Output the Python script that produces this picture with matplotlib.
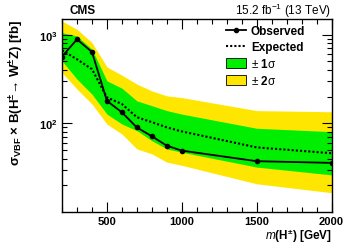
import numpy as np
import matplotlib
matplotlib.use("Agg")
import matplotlib.pyplot as plt
from matplotlib.lines import Line2D
from matplotlib.patches import Patch
from matplotlib.ticker import FixedLocator, LogLocator, MultipleLocator, NullFormatter

plt.rcParams["font.family"] = ["Liberation Sans", "DejaVu Sans"]
plt.rcParams["mathtext.fontset"] = "custom"
plt.rcParams["mathtext.rm"] = "Liberation Sans"
plt.rcParams["mathtext.bf"] = "Liberation Sans:bold"
plt.rcParams["mathtext.it"] = "Liberation Sans:italic"

# charged Higgs mass points [GeV]
mass = [200, 300, 400, 500, 600, 700, 800, 900, 1000, 1500, 2000]
# limits [fb]
observed = [566, 885, 637, 179, 133, 89.7, 71.5, 55.9, 49.2, 37.4, 35.8]
expected = [666, 527, 408, 196, 165, 117, 103, 90, 81, 53.5, 46]
exp_p1 = [1052, 964, 684, 301, 249, 179, 158, 139, 127, 87.9, 80.5]
exp_m1 = [505, 315, 213, 127, 98.2, 82.6, 63.7, 51.4, 47.2, 32.1, 26.2]
exp_p2 = [1422, 1148, 813, 432, 349, 277, 232, 204, 195, 139, 135]
exp_m2 = [374, 243, 165, 98, 75.8, 51.4, 45.2, 36.5, 33.6, 20.8, 16.5]

green = "#00ee00"
yellow = "#ffe600"

fig = plt.figure(figsize=(3.49, 2.51), dpi=100)
ax = fig.add_axes([0.1777, 0.1514, 0.9500 - 0.1777, 0.9203 - 0.1514])

ax.fill_between(mass, exp_m2, exp_p2, color=yellow, lw=0)
ax.fill_between(mass, exp_m1, exp_p1, color=green, lw=0)
ax.plot(mass, expected, color="black", ls=(0, (1, 1)), lw=1.5)
ax.plot(mass, observed, color="black", lw=1.3, marker="o", ms=3)

ax.set_yscale("log")
ax.set_xlim(200, 2000)
ax.set_ylim(10, 1500)

ax.xaxis.set_major_locator(FixedLocator([500, 1000, 1500, 2000]))
ax.xaxis.set_minor_locator(MultipleLocator(100))
ax.yaxis.set_major_locator(FixedLocator([100, 1000]))
ax.yaxis.set_minor_locator(LogLocator(base=10, subs=np.arange(2, 10)))
ax.yaxis.set_minor_formatter(NullFormatter())
ax.set_yticklabels([r"$\mathbf{10^{2}}$", r"$\mathbf{10^{3}}$"])
ax.tick_params(which="both", direction="in", top=True, right=True, width=0.8)
ax.tick_params(which="major", length=7, labelsize=8, pad=3)
ax.tick_params(which="minor", length=3.5)
for lab in ax.get_xticklabels():
    lab.set_fontweight("bold")
for s in ax.spines.values():
    s.set_linewidth(1.0)

ax.set_ylabel(r"σ$_{\mathbf{VBF}}$ × B(H$^{\mathbf{\pm}}$→ W$^{\mathbf{\pm}}$Z) [fb]",
              fontsize=9.5, fontweight="bold", loc="top")
ax.yaxis.set_label_coords(-0.135, 1.0)
ax.set_xlabel(r"$\mathbf{\mathit{m}}$(H$^{\mathbf{\pm}}$) [GeV]", fontsize=8.5,
              fontweight="bold", loc="right", labelpad=0)

fig.text(70 / 349, 1 - 11 / 251, "CMS", fontsize=8.5, fontweight="bold",
         ha="left", va="center")
fig.text(331 / 349, 1 - 11 / 251, r"15.2 fb$^{-1}$ (13 TeV)", fontsize=8.5,
         ha="right", va="center")

handles = [
    Line2D([], [], color="black", lw=1.3, marker="o", ms=3),
    Line2D([], [], color="black", lw=1.5, ls=(0, (1, 1))),
    Patch(facecolor=green, edgecolor="black", lw=0.6),
    Patch(facecolor=yellow, edgecolor="black", lw=0.6),
]
labels = ["Observed", "Expected", r"± $\mathbf{1}$σ", r"± $\mathbf{2}$σ"]
leg = ax.legend(handles, labels, loc="upper left", bbox_to_anchor=(226 / 349, 1 - 26 / 251),
                bbox_transform=fig.transFigure, frameon=False, fontsize=8.5,
                handlelength=1.7, handleheight=0.9, handletextpad=0.4,
                labelspacing=0.35, borderaxespad=0, borderpad=0)
for t in leg.get_texts()[:2]:
    t.set_fontweight("bold")

fig.savefig("out.png", dpi=100)
